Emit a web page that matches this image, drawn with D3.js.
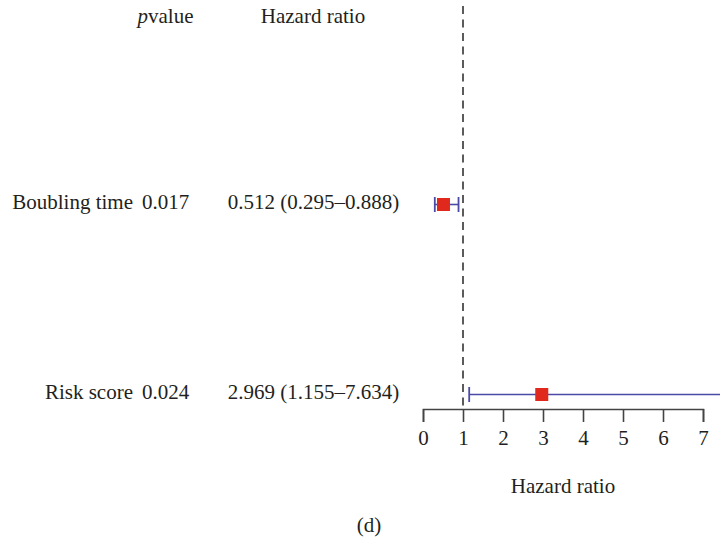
<!DOCTYPE html>
<html>
<head>
<meta charset="utf-8">
<script src="https://cdn.jsdelivr.net/npm/d3@7"></script>
<style>
  body { margin: 0; background: #fff; }
  svg { display: block; font-family: "Liberation Serif", "Times New Roman", serif; }
</style>
</head>
<body>
<svg id="chart"></svg>
<script>
// forest plot data
const variables = ["Boubling time", "Risk score"];
const pValues = ["0.017", "0.024"];
const hazardRatios = [0.512, 2.969];
const lowerCI = [0.295, 1.155];
const upperCI = [0.888, 7.634];
const xTicks = [0, 1, 2, 3, 4, 5, 6, 7];

let svgWidth = 720;
let svgHeight = 539;
let fontSize = 21;

let svg = d3.select("#chart")
    .attr("width", svgWidth)
    .attr("height", svgHeight);

let x = d3.scaleLinear().domain([0, 7]).range([423, 703]);
let y = d3.scalePoint().domain(["header"].concat(variables)).range([14.5, 394.5]);
let axisY = 409;

let fmt = d3.format(".3f");

// column headers
let header = svg.append("g").attr("font-size", fontSize).attr("fill", "#231f20");
let pv = header.append("text")
    .attr("x", 165.5).attr("y", y("header") + 8)
    .attr("text-anchor", "middle");
pv.append("tspan").attr("font-style", "italic").text("p");
pv.append("tspan").text("value");
header.append("text")
    .attr("x", 313).attr("y", y("header") + 8)
    .attr("text-anchor", "middle")
    .text("Hazard ratio");

// reference line at HR = 1
svg.append("line")
    .attr("x1", x(1)).attr("x2", x(1))
    .attr("y1", 6).attr("y2", axisY)
    .attr("stroke", "#333")
    .attr("stroke-width", 1.6)
    .attr("stroke-dasharray", "8,5.5");

// rows
let rows = svg.append("g").selectAll("g")
    .data(variables).enter().append("g")
    .attr("font-size", fontSize).attr("fill", "#231f20");

rows.append("text")
    .attr("x", 133).attr("y", d => y(d) + 4)
    .attr("text-anchor", "end")
    .text(d => d);
rows.append("text")
    .attr("x", 165.5).attr("y", d => y(d) + 4)
    .attr("text-anchor", "middle")
    .text((d, i) => pValues[i]);
rows.append("text")
    .attr("x", 313.5).attr("y", d => y(d) + 4)
    .attr("text-anchor", "middle")
    .text((d, i) => fmt(hazardRatios[i]) + " (" + fmt(lowerCI[i]) + "\u2013" + fmt(upperCI[i]) + ")");

// confidence intervals
let ciColor = "#4b4aa6";
let capH = 7.5;
let marks = svg.append("g");
variables.forEach(function(v, i) {
    let cy = y(v);
    marks.append("line")
        .attr("x1", x(lowerCI[i])).attr("x2", x(upperCI[i]))
        .attr("y1", cy).attr("y2", cy)
        .attr("stroke", ciColor).attr("stroke-width", 1.6);
    [lowerCI[i], upperCI[i]].forEach(function(c) {
        marks.append("line")
            .attr("x1", x(c)).attr("x2", x(c))
            .attr("y1", cy - capH).attr("y2", cy + capH)
            .attr("stroke", ciColor).attr("stroke-width", 1.8);
    });
    marks.append("rect")
        .attr("x", x(hazardRatios[i]) - 6.5).attr("y", cy - 6.5)
        .attr("width", 13).attr("height", 13)
        .attr("fill", "#e0281c");
});

// x axis
let axis = svg.append("g")
    .attr("transform", "translate(0," + axisY + ")")
    .call(d3.axisBottom(x).tickValues(xTicks).tickSize(13).tickPadding(8).tickFormat(d3.format("d")));
axis.select(".domain").attr("stroke", "#444").attr("stroke-width", 1.6);
axis.selectAll(".tick line").attr("stroke", "#444").attr("stroke-width", 1.6);
axis.selectAll(".tick text")
    .attr("font-family", "Liberation Serif, serif")
    .attr("font-size", fontSize)
    .attr("fill", "#231f20");

svg.append("text")
    .attr("x", (x(0) + x(7)) / 2).attr("y", 493)
    .attr("text-anchor", "middle")
    .attr("font-size", fontSize).attr("fill", "#231f20")
    .text("Hazard ratio");

svg.append("text")
    .attr("x", 369).attr("y", 532)
    .attr("text-anchor", "middle")
    .attr("font-size", fontSize).attr("fill", "#231f20")
    .text("(d)");
</script>
</body>
</html>
